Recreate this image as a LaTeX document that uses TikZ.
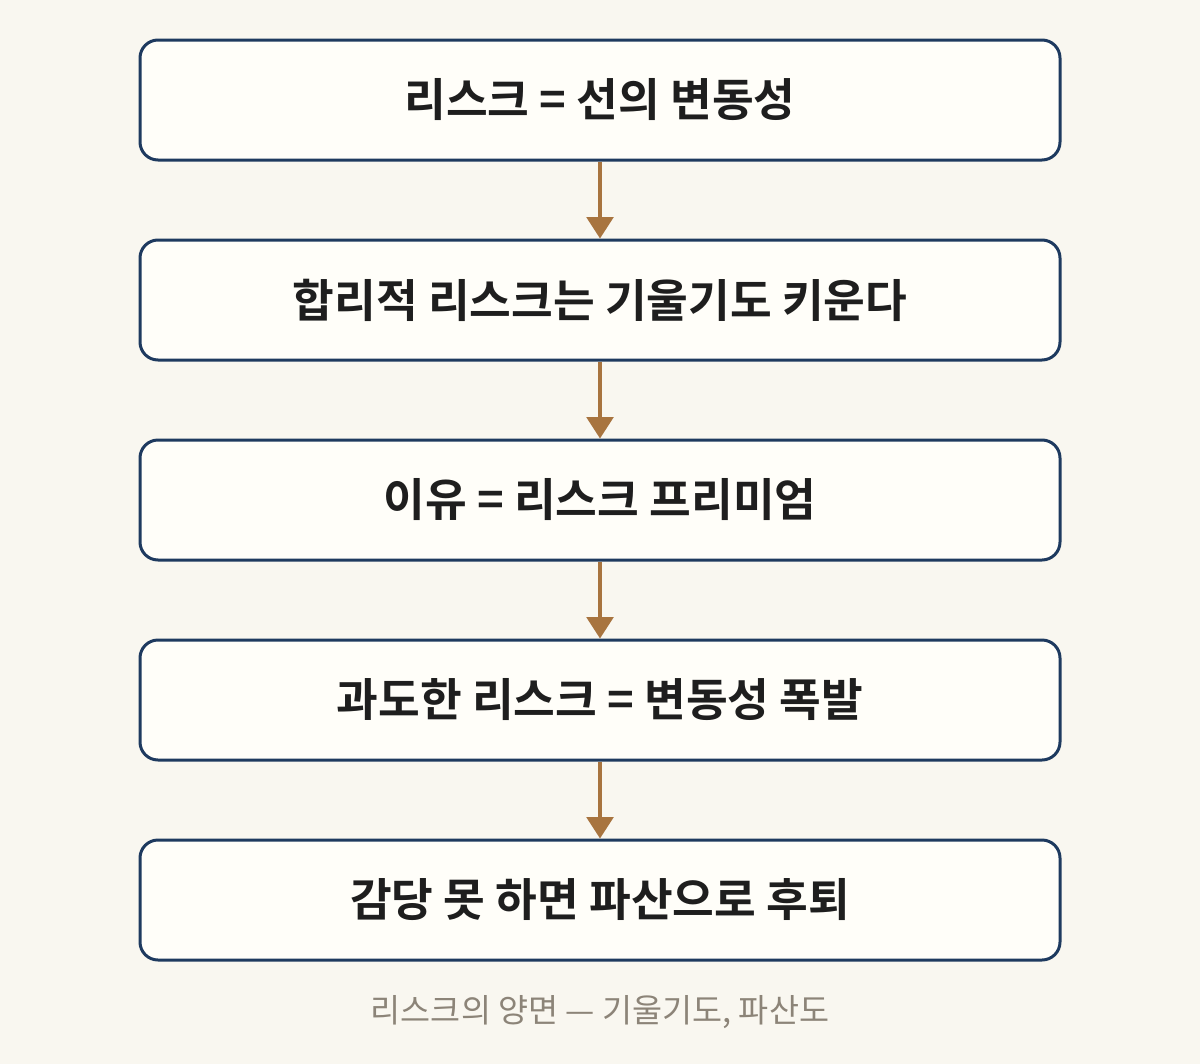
\documentclass[tikz,border=0pt]{standalone}
\usepackage{fontspec}
\setmainfont{Noto Sans CJK KR}
\newfontfamily\krbold{Noto Sans CJK KR Bold}
\usetikzlibrary{arrows.meta}
\definecolor{bgcol}{HTML}{F9F7F0}
\definecolor{boxfill}{HTML}{FFFEF9}
\definecolor{navy}{HTML}{1E3A5F}
\definecolor{bronze}{HTML}{A8743F}
\definecolor{inkcol}{HTML}{1E1E1E}
\definecolor{capcol}{HTML}{8C8478}
\begin{document}
\begin{tikzpicture}[x=0.75pt,y=-0.75pt,
    stepbox/.style={draw=navy, line width=2.25pt, fill=boxfill, rounded corners=13.5pt,
        minimum width=690pt, minimum height=90pt, inner sep=0pt,
        text=inkcol, font=\krbold\fontsize{34}{40}\selectfont},
    flow/.style={draw=bronze, line width=2.4pt, -{Triangle[width=20pt,length=16pt]}}]
            \fill[bgcol] (0,0) rectangle (1200,1064);
            \useasboundingbox (0,0) rectangle (1200,1064);
            \node[stepbox] (risk) at (600,100) {리스크 = 선의 변동성};
            \node[stepbox] (tilt) at (600,300) {합리적 리스크는 기울기도 키운다};
            \node[stepbox] (prem) at (600,500) {이유 = 리스크 프리미엄};
            \node[stepbox] (boom) at (600,700) {과도한 리스크 = 변동성 폭발};
            \node[stepbox] (ruin) at (600,900) {감당 못 하면 파산으로 후퇴};
            \draw[flow] (risk) -- (tilt);
            \draw[flow] (tilt) -- (prem);
            \draw[flow] (prem) -- (boom);
            \draw[flow] (boom) -- (ruin);
            \node[text=capcol, font=\fontsize{24.5}{29}\selectfont] (cap) at (600,1012) {리스크의 양면 — 기울기도, 파산도};
        \end{tikzpicture}
\end{document}
